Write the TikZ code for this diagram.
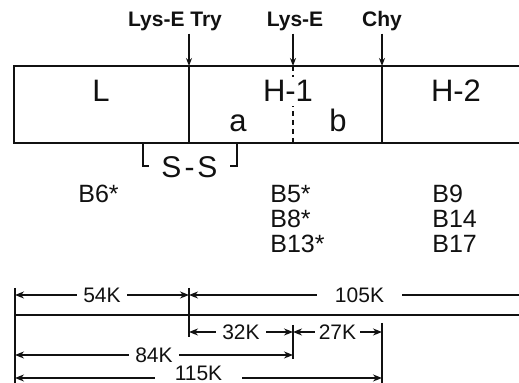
\documentclass[tikz,border=0pt]{standalone}
\usepackage{fontspec}
\setmainfont{Liberation Sans}
\usepackage{tikz}
\usetikzlibrary{arrows.meta, positioning, calc}
\definecolor{ink}{HTML}{111111}
\tikzset{
    chain/.style={draw=ink, line width=1pt},
    bracket/.style={draw=ink, line width=0.8pt},
    cutarr/.style={-{Stealth[length=4pt, width=3pt]}, line width=0.8pt, color=ink},
    dimline/.style={draw=ink, line width=0.9pt},
    dimarr/.style={line width=0.9pt, color=ink},
    dimlabel/.style={fill=white, inner ysep=1pt, inner xsep=3pt, text=ink,
                     font=\fontsize{10.5}{12}\selectfont},
    cutlabel/.style={anchor=base, inner sep=1pt, text=ink,
                     font=\fontsize{10.5}{12}\selectfont\bfseries},
    seglabel/.style={anchor=base, inner sep=0pt, text=ink,
                     font=\fontsize{15.5}{18}\selectfont},
    frag/.style={anchor=base west, inner sep=0pt, text=ink,
                 font=\fontsize{12.5}{12.5}\selectfont},
}

\begin{document}
\begin{tikzpicture}[x=0.5pt, y=-0.5pt, >={Stealth[length=4.5pt, width=3.5pt]}]

  \useasboundingbox (0,0) rectangle (519,383);
  \clip (0,0) rectangle (519,383);

  % Chain with cleavage sites
  \coordinate (boxnw) at (14,66);
  \coordinate (boxsw) at (14,143);
  \coordinate (cut1) at (189,66);
  \coordinate (cut2) at (293,66);
  \coordinate (cut3) at (382,66);

  \draw[chain] (530,66) -- (boxnw) -- (boxsw) -- (530,143);
  \draw[chain] (cut1) -- (cut1 |- boxsw);
  \draw[chain, dash pattern=on 2.5pt off 2pt] (cut2) -- (cut2 |- boxsw);
  \draw[chain] (cut3) -- (cut3 |- boxsw);

  \node[cutlabel] (trylab) at (175,27) {Lys-E Try};
  \node[cutlabel] (lyslab) at (295,27) {Lys-E};
  \node[cutlabel] (chylab) at (382,27) {Chy};

  \draw[cutarr] (trylab.south -| cut1) -- (cut1);
  \draw[cutarr] (lyslab.south -| cut2) -- (cut2);
  \draw[cutarr] (chylab.south -| cut3) -- (cut3);

  \node[seglabel] (segL) at (101,102) {L};
  \node[seglabel, fill=white, inner ysep=2pt] (segH1) at (288,102) {H-1};
  \node[seglabel] (segH2) at (456,102) {H-2};
  \node[seglabel] (sega) at (238,132) {a};
  \node[seglabel] (segb) at (338,132) {b};

  % S-S bridge
  \coordinate (ssl) at (143,143);
  \coordinate (ssr) at (237,143);
  \node[seglabel, font=\fontsize{15}{18}\selectfont] (ss) at (189.5,178) {S\kern1.5pt-\kern1.5pt S};
  \draw[bracket] (ssl) |- ++(6,23);
  \draw[bracket] (ssr) |- ++(-7,23);

  % Fragments
  \node[frag] (b6) at (78,203) {B6*};
  \node[frag] (b5) at (270,203) {B5*};
  \node[frag] (b8) at (270,228) {B8*};
  \node[frag] (b13) at (270,253) {B13*};
  \node[frag] (b9) at (432,203) {B9};
  \node[frag] (b14) at (432,228) {B14};
  \node[frag] (b17) at (432,253) {B17};

  % Sizes along the chain
  \coordinate (m0) at (15,315);
  \coordinate (m54) at (189,315);
  \coordinate (m86) at (293,315);
  \coordinate (m115) at (382,315);
  \coordinate (mend) at (530,315);

  \draw[dimline] (m0) -- (mend);
  \draw[dimline] ($(m0)+(0,-27)$) -- ($(m0)+(0,75)$);
  \draw[dimline] ($(m54)+(0,-27)$) -- ($(m54)+(0,22)$);
  \draw[dimline] ($(m86)+(0,10)$) -- ($(m86)+(0,44)$);
  \draw[dimline] ($(m115)+(0,8)$) -- ($(m115)+(0,75)$);

  \draw[dimarr, <->] ($(m0)+(0,-20)$) -- node[dimlabel]{54K} ($(m54)+(0,-20)$);
  \draw[dimarr, <-] ($(m54)+(0,-20)$) -- node[dimlabel, inner xsep=9pt]{105K} ($(mend)+(0,-20)$);
  \draw[dimarr, <->] ($(m54)+(0,17)$) -- node[dimlabel]{32K} ($(m86)+(0,17)$);
  \draw[dimarr, <->] ($(m86)+(0,17)$) -- node[dimlabel, inner xsep=2pt]{27K} ($(m115)+(0,17)$);
  \draw[dimarr, <->] ($(m0)+(0,40)$) -- node[dimlabel]{84K} ($(m86)+(0,40)$);
  \draw[dimarr, <->] ($(m0)+(0,63)$) -- node[dimlabel, inner xsep=10pt, yshift=2.5pt]{115K} ($(m115)+(0,63)$);

\end{tikzpicture}
\end{document}
